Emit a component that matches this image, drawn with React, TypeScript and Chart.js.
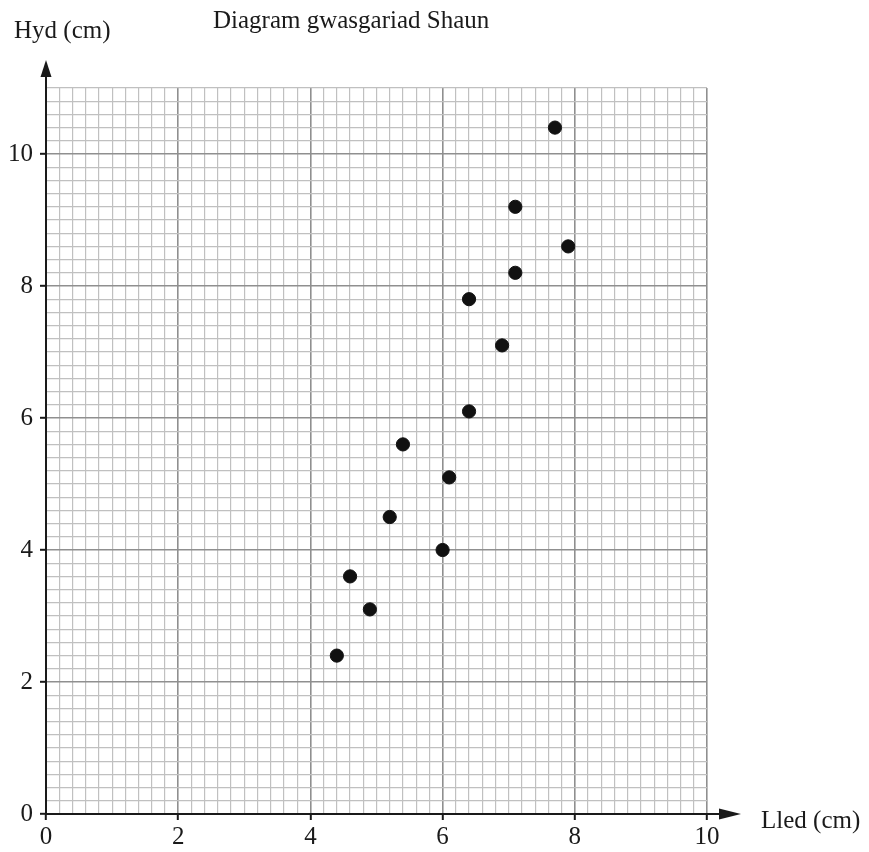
import { useEffect, useRef } from "react";
import { Chart, registerables } from "chart.js";
Chart.register(...registerables);

// Shaun's scatter data (width, height in cm)
const widths = [4.4, 4.6, 4.9, 5.2, 5.4, 6.0, 6.1, 6.4, 6.4, 6.9, 7.1, 7.1, 7.7, 7.9];
const heights = [2.4, 3.6, 3.1, 4.5, 5.6, 4.0, 5.1, 6.1, 7.8, 7.1, 8.2, 9.2, 10.4, 8.6];

const title = "Diagram gwasgariad Shaun";
const xTitle = "Lled (cm)";
const yTitle = "Hyd (cm)";

const X_MAX = 10;
const Y_MAX = 11;
const MINOR_STEP = 0.2;
const MAJOR_EVERY = 10; // major line every 10 minor steps (= 2 cm)

const FONT = "'Liberation Serif', 'Times New Roman', serif";
const INK = "#1a1a1a";

const isMajor = (v: number) => Math.round(v / MINOR_STEP) % MAJOR_EVERY === 0;

const decor = {
  id: "decor",
  afterDraw(chart: Chart) {
    const { ctx, chartArea: a } = chart;
    const x0 = chart.scales.x.getPixelForValue(0);
    const y0 = chart.scales.y.getPixelForValue(0);
    ctx.save();
    ctx.strokeStyle = INK;
    ctx.fillStyle = INK;
    ctx.lineWidth = 2;

    // x axis with arrow
    const xTip = a.right + 34;
    ctx.beginPath();
    ctx.moveTo(x0 - 1, y0);
    ctx.lineTo(xTip - 10, y0);
    ctx.stroke();
    ctx.beginPath();
    ctx.moveTo(xTip, y0);
    ctx.lineTo(xTip - 22, y0 - 5.5);
    ctx.lineTo(xTip - 22, y0 + 5.5);
    ctx.closePath();
    ctx.fill();

    // y axis with arrow
    const yTip = a.top - 28;
    ctx.beginPath();
    ctx.moveTo(x0, y0 + 1);
    ctx.lineTo(x0, yTip + 10);
    ctx.stroke();
    ctx.beginPath();
    ctx.moveTo(x0, yTip);
    ctx.lineTo(x0 - 5.5, yTip + 17);
    ctx.lineTo(x0 + 5.5, yTip + 17);
    ctx.closePath();
    ctx.fill();

    // texts
    ctx.font = `25px ${FONT}`;
    ctx.textAlign = "left";
    ctx.textBaseline = "alphabetic";
    ctx.fillText(title, a.left + 167, 28);
    ctx.fillText(yTitle, 14, 38);
    ctx.fillText(xTitle, a.right + 54, y0 + 14);
    ctx.restore();
  },
};

export default function App() {
  const canvasRef = useRef<HTMLCanvasElement>(null);

  useEffect(() => {
    document.body.style.margin = "0";
    const canvas = canvasRef.current;
    if (!canvas) return;

    const gridColor = (ctx: any) =>
      isMajor(ctx.tick.value) ? "#8f8f8f" : "#c0c0c0";
    const gridWidth = (ctx: any) => (isMajor(ctx.tick.value) ? 1.6 : 1.2);
    const tickColor = (ctx: any) =>
      isMajor(ctx.tick.value) ? INK : "rgba(0,0,0,0)";
    const label = (v: any) => (isMajor(Number(v)) ? String(Math.round(Number(v))) : "");

    const chart = new Chart(canvas, {
      type: "scatter",
      data: {
        datasets: [
          {
            label: "Shaun",
            data: widths.map((w, i) => ({ x: w, y: heights[i] })),
            backgroundColor: "#111",
            borderColor: "#111",
            pointRadius: 6.6,
            pointHoverRadius: 6.6,
          },
        ],
      },
      options: {
        animation: false,
        responsive: false,
        events: [],
        layout: { padding: { left: 0, right: 162, top: 88, bottom: 0 } },
        plugins: {
          legend: { display: false },
          title: { display: false },
          tooltip: { enabled: false },
        },
        scales: {
          x: {
            type: "linear",
            min: 0,
            max: X_MAX,
            afterFit: (s: any) => {
              s.height = 38;
            },
            border: { display: false },
            grid: {
              color: gridColor,
              lineWidth: gridWidth,
              tickColor,
              tickWidth: 2,
              tickLength: 6,
            },
            ticks: {
              stepSize: MINOR_STEP,
              autoSkip: false,
              maxRotation: 0,
              padding: 2,
              color: INK,
              font: { family: FONT, size: 25 },
              callback: label,
            },
          },
          y: {
            type: "linear",
            min: 0,
            max: Y_MAX,
            afterFit: (s: any) => {
              s.width = 46;
            },
            border: { display: false },
            grid: {
              color: gridColor,
              lineWidth: gridWidth,
              tickColor,
              tickWidth: 2,
              tickLength: 6,
            },
            ticks: {
              stepSize: MINOR_STEP,
              autoSkip: false,
              padding: 7,
              color: INK,
              font: { family: FONT, size: 25 },
              callback: label,
            },
          },
        },
      },
      plugins: [decor],
    });

    return () => chart.destroy();
  }, []);

  return (
    <div style={{ width: 869, height: 852, background: "#fff" }}>
      <canvas ref={canvasRef} width={869} height={852} />
    </div>
  );
}
